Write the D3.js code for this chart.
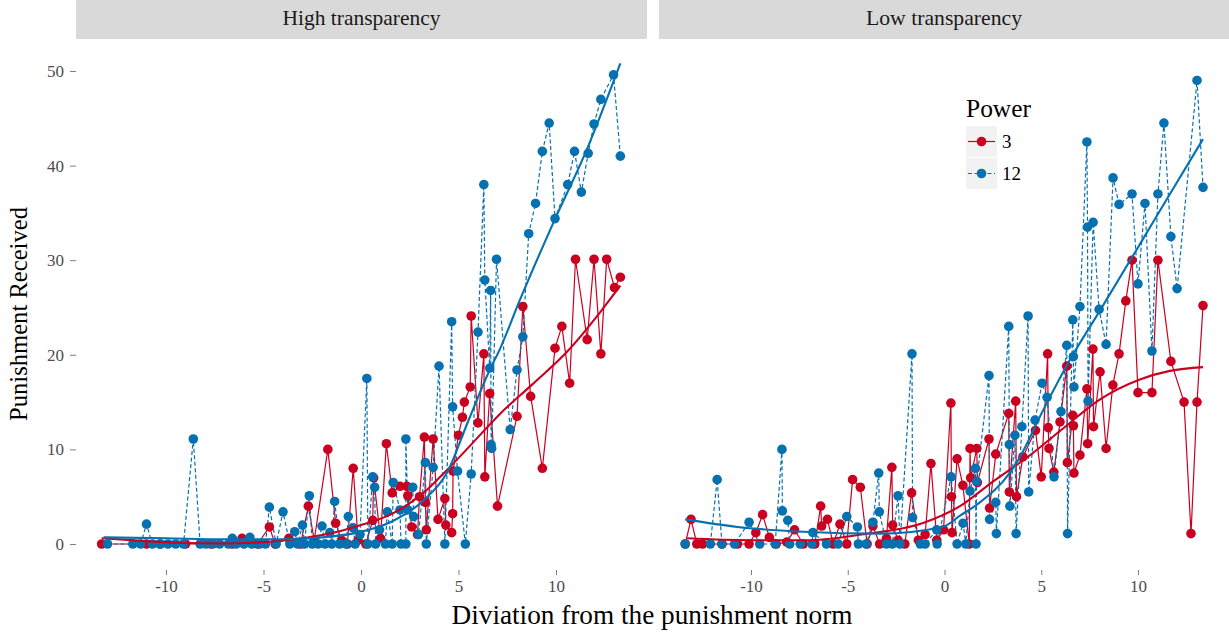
<!DOCTYPE html>
<html><head><meta charset="utf-8">
<script src="https://cdn.jsdelivr.net/npm/d3@7"></script>
<style>
body{margin:0;background:#fff}
svg{display:block}
text{font-family:"Liberation Serif","Times New Roman",serif}
</style>
</head><body>
<svg id="chart" width="1229" height="637"></svg>
<script>
// ---------------- data ----------------
const panelNames = ["High transparency", "Low transparency"];
const powerLevels = ["3", "12"];
const yTickValues = [0, 10, 20, 30, 40, 50];
const xTickValues = [-10, -5, 0, 5, 10];
const xTitle = "Diviation from the punishment norm";
const yTitle = "Punishment Received";
const legendTitle = "Power";

// High transparency, Power 3  [deviation, punishment]
const hiPower3 = [[-13.3,0],[-11.0,0],[-10.3,0],[-9.0,0],[-7.7,0],[-6.6,0],[-6.1,0.6],[-5.3,0],[-4.7,1.8],[-4.4,0],[-3.7,0.6],[-3.1,0],[-2.7,4.0],[-2.4,0.4],[-1.7,10.0],[-1.3,2.2],[-1.0,0.4],[-0.7,0],[-0.4,8.0],[-0.15,0.4],[0.25,0],[0.6,2.5],[0.65,7.0],[1.0,0.6],[1.3,10.6],[1.6,5.4],[2.0,6.1],[2.35,6.1],[2.4,5.1],[2.6,1.8],[2.9,1.0],[3.0,5.0],[3.25,11.3],[3.3,4.4],[3.35,1.5],[3.7,11.1],[3.95,2.6],[4.3,4.8],[4.35,2.0],[4.65,1.2],[4.7,3.2],[4.72,7.7],[5.0,11.5],[5.2,13.4],[5.3,15.0],[5.6,16.6],[5.65,24.1],[6.0,12.8],[6.3,20.1],[6.35,7.1],[6.6,15.9],[7.0,4.0],[8.0,13.5],[8.3,25.1],[8.7,15.6],[9.3,8.0],[9.95,20.7],[10.3,23.0],[10.7,17.0],[11.0,30.1],[11.6,21.6],[11.95,30.1],[12.3,20.1],[12.6,30.1],[13.0,27.1],[13.3,28.2]];

// High transparency, Power 12
const hiPower12 = [[-13.0,0],[-11.7,0],[-11.3,0],[-10.7,0],[-10.3,0],[-9.9,0],[-9.5,0],[-9.1,0],[-8.25,0],[-7.95,0],[-7.6,0],[-7.25,0],[-6.8,0],[-6.4,0],[-6.0,0],[-5.6,0],[-5.2,0],[-4.9,0],[-4.35,0],[-3.65,0],[-3.25,0],[-2.9,0],[-2.5,0],[-2.2,0],[-1.85,0],[-1.5,0],[-1.1,0],[-0.75,0],[-0.3,0],[0.35,0],[0.75,0],[1.25,0],[1.6,0],[2.05,0],[2.3,0],[3.35,0],[4.3,0],[5.35,0],
[-11.0,2.1],[-8.6,11.1],[-6.6,0.6],[-5.7,0.7],[-4.7,3.9],[-4.0,3.4],[-3.4,1.3],[-3.0,2.0],[-2.65,5.1],[-2.0,1.9],[-1.6,1.2],[-1.35,4.5],[-0.65,2.9],[-0.4,1.7],[-0.05,1.0],[0.3,17.5],[0.6,7.1],[0.7,6.0],[0.95,1.5],[1.35,3.4],[1.65,6.5],[2.0,3.6],[2.3,11.1],[2.4,3.6],[2.65,6.0],[2.7,2.9],[2.95,1.0],[3.3,8.6],[3.7,8.1],[4.0,18.8],[4.65,23.5],[4.7,14.5],[4.95,7.7],[5.65,7.4],[6.0,22.4],[6.3,38.0],[6.35,27.9],[6.6,18.6],[6.65,26.8],[6.67,10.5],[6.7,10.1],[6.95,30.1],[7.65,12.1],[8.0,18.4],[8.3,21.9],[8.6,32.8],[8.95,36.0],[9.3,41.5],[9.65,44.5],[9.95,34.4],[10.6,38.0],[10.95,41.5],[11.3,37.2],[11.65,41.3],[11.95,44.4],[12.3,47.0],[12.95,49.6],[13.3,41.0]];

// Low transparency, Power 3
const loPower3 = [[-13.4,0],[-13.1,2.6],[-12.8,0],[-12.5,0],[-11.5,0],[-10.7,0],[-10.1,0],[-9.75,1.2],[-9.4,3.1],[-9.05,0.7],[-8.7,0],[-8.15,0.2],[-7.75,1.5],[-7.3,0],[-6.7,0],[-6.4,4.0],[-6.35,1.9],[-6.05,2.6],[-5.75,0],[-5.4,2.1],[-5.05,0],[-4.75,6.8],[-4.35,6.0],[-4.0,0],[-3.7,1.9],[-3.35,0],[-3.0,0.6],[-2.72,8.1],[-2.68,2.0],[-2.4,0.4],[-2.05,0],[-1.7,5.4],[-1.35,0.4],[-1.0,1.0],[-0.7,8.5],[-0.4,0.4],[-0.05,1.5],[0.33,14.9],[0.36,5.0],[0.39,1.2],[0.65,9.0],[0.95,6.2],[1.28,0],[1.32,10.1],[1.35,7.0],[1.67,10.1],[1.7,6.5],[2.3,11.1],[2.33,3.8],[2.65,9.5],[3.32,13.8],[3.35,5.5],[3.68,15.1],[3.72,5.0],[4.05,9.2],[4.7,12.0],[5.0,7.1],[5.33,20.1],[5.36,12.3],[5.4,10.1],[5.65,7.6],[5.97,12.9],[6.32,18.8],[6.35,8.6],[6.63,13.6],[6.66,12.5],[6.69,7.5],[7.0,9.4],[7.36,16.4],[7.4,10.6],[7.67,20.6],[7.7,12.4],[8.04,18.2],[8.35,10.1],[8.7,16.8],[9.02,20.1],[9.37,25.7],[9.69,30.0],[10.0,16.0],[10.72,16.0],[11.03,30.0],[11.7,19.3],[12.38,15.0],[12.74,1.1],[13.05,15.0],[13.36,25.2]];

// Low transparency, Power 12
const loPower12 = [[-13.4,0],[-12.1,0],[-11.5,0],[-10.85,0],[-9.55,0],[-8.75,0],[-8.0,0],[-7.45,0],[-6.85,0],[-6.1,0],[-5.5,0],[-4.45,0],[-4.05,0],[-3.0,0],[-2.7,0],[-2.3,0],[-1.25,0],[-1.0,0],[-0.38,0],[0.65,0],[1.1,0],[1.63,0],
[-11.75,6.8],[-10.1,2.3],[-8.4,10.0],[-8.38,3.5],[-8.1,2.5],[-6.8,1.2],[-5.05,2.9],[-4.5,1.8],[-3.7,2.3],[-3.4,7.5],[-3.37,3.4],[-2.4,5.1],[-1.68,20.1],[-1.65,2.8],[-0.4,1.5],[0.34,7.1],[0.96,2.2],[1.32,5.6],[1.6,8.0],[1.66,6.6],[2.3,17.8],[2.33,2.6],[2.65,4.4],[2.68,1.1],[3.32,23.0],[3.35,10.5],[3.38,4.0],[3.64,11.5],[3.7,1.1],[4.0,12.4],[4.32,24.1],[4.35,5.5],[4.68,13.1],[5.04,17.0],[5.3,15.5],[5.66,7.1],[6.02,14.0],[6.32,21.0],[6.36,1.1],[6.63,23.7],[6.66,19.8],[6.69,16.6],[7.0,25.1],[7.36,42.5],[7.39,33.5],[7.42,15.1],[7.68,34.0],[7.99,24.8],[8.35,21.1],[8.71,38.7],[9.02,35.9],[9.69,37.0],[10.0,27.5],[10.36,36.0],[10.72,20.4],[11.03,37.0],[11.34,44.5],[11.7,32.5],[12.02,27.0],[13.05,49.0],[13.36,37.7]];

// smoothed (loess) curves
const hiSmooth3 = [[-13.3,0.6],[-11,0.3],[-9,0.1],[-7,0.05],[-5,0.2],[-3,0.6],[-1,1.4],[0,2.0],[1.5,3.1],[3.2,5.4],[4.4,7.8],[5.6,10.4],[7.1,13.7],[8.8,16.9],[10.6,20.4],[12.3,24.6],[13.3,27.3]];
const hiSmooth12 = [[-13.2,0.7],[-10,0.6],[-7,0.5],[-4,0.5],[-2,0.7],[-0.2,1.2],[1.5,2.3],[3.2,4.6],[4.4,7.5],[5.5,13.0],[6.6,18.4],[7.1,20.5],[8.15,25.8],[9.85,33.9],[11.6,41.8],[13.3,50.8]];
const loSmooth3 = [[-13.3,0.6],[-10,0.4],[-7,0.4],[-4.3,1.0],[-1,2.3],[0.8,4.0],[2.5,6.6],[4.3,9.2],[6.0,12.0],[8.04,15.3],[10.1,17.4],[11.65,18.3],[13.36,18.7]];
const loSmooth12 = [[-13.4,2.6],[-10.7,1.8],[-7.3,1.3],[-3.3,1.1],[-0.1,1.8],[0.8,3.0],[1.7,4.2],[3.4,7.6],[3.9,9.2],[4.94,13.5],[6.49,19.5],[8.04,24.7],[10.1,31.7],[11.65,37.0],[13.36,42.8]];

// ---------------- layout ----------------
const colors = {"3": "#CA0020", "12": "#0571B0"};
const svg = d3.select("#chart");
const yScale = d3.scaleLinear().domain([0, 50]).range([544, 71]);
const panelBottom = 570, stripTop = 0, stripH = 39;
const panelDefs = [
  {name: panelNames[0], x0: 76, x1: 647, scale: d3.scaleLinear().domain([-10, 10]).range([166, 556]),
   series: {"3": hiPower3, "12": hiPower12}, smooth: {"3": hiSmooth3, "12": hiSmooth12}, stripW: 158},
  {name: panelNames[1], x0: 659, x1: 1229, scale: d3.scaleLinear().domain([-10, 10]).range([751, 1138]),
   series: {"3": loPower3, "12": loPower12}, smooth: {"3": loSmooth3, "12": loSmooth12}, stripW: 156}
];

function fitText(sel, target) {
  const w = sel.node().getComputedTextLength();
  const fs = parseFloat(sel.attr("font-size"));
  sel.attr("font-size", (fs * target / w).toFixed(2));
}

panelDefs.forEach((p, i) => {
  const g = svg.append("g");
  // strip
  g.append("rect").attr("x", p.x0).attr("y", stripTop).attr("width", p.x1 - p.x0).attr("height", stripH).attr("fill", "#d9d9d9");
  const st = g.append("text").attr("x", (p.x0 + p.x1) / 2).attr("y", 25).attr("text-anchor", "middle")
    .attr("font-size", 18).attr("fill", "#1a1a1a").text(p.name);
  fitText(st, p.stripW);

  const xs = p.scale;
  const line = d3.line().x(d => xs(d[0])).y(d => yScale(d[1]));
  const smooth = d3.line().x(d => xs(d[0])).y(d => yScale(d[1])).curve(d3.curveMonotoneX);

  // connecting lines (ordered by x)
  powerLevels.forEach(k => {
    const sorted = d3.sort(p.series[k], d => d[0]);
    g.append("path").attr("d", line(sorted)).attr("fill", "none")
      .attr("stroke", colors[k]).attr("stroke-width", 1.2)
      .attr("stroke-dasharray", k === "12" ? "4,2.5" : null);
  });
  // points
  powerLevels.forEach(k => {
    g.append("g").selectAll("circle").data(p.series[k]).join("circle")
      .attr("cx", d => xs(d[0])).attr("cy", d => yScale(d[1])).attr("r", 4.8)
      .attr("fill", colors[k]);
  });
  // smooth lines
  powerLevels.forEach(k => {
    g.append("path").attr("d", smooth(p.smooth[k])).attr("fill", "none")
      .attr("stroke", colors[k]).attr("stroke-width", 2.1);
  });

  // x axis
  const ax = g.append("g").attr("transform", `translate(0,${panelBottom})`)
    .call(d3.axisBottom(xs).tickValues(xTickValues).tickSize(5).tickPadding(5).tickFormat(d => d));
  ax.select(".domain").remove();
  ax.selectAll("line").attr("stroke", "#7f7f7f");
  ax.selectAll("text").attr("font-size", 17).attr("fill", "#4d4d4d")
    .style("font-family", '"Liberation Serif",serif');

  if (i === 0) {
    const ay = g.append("g").attr("transform", `translate(${p.x0},0)`)
      .call(d3.axisLeft(yScale).tickValues(yTickValues).tickSize(6).tickPadding(6));
    ay.select(".domain").remove();
    ay.selectAll("line").attr("stroke", "#7f7f7f");
    ay.selectAll("text").attr("font-size", 17).attr("fill", "#4d4d4d")
      .style("font-family", '"Liberation Serif",serif');
  }
});

// axis titles
const xt = svg.append("text").attr("x", 652).attr("y", 624).attr("text-anchor", "middle")
  .attr("font-size", 24).attr("fill", "#000").text(xTitle);
fitText(xt, 401);
const yt = svg.append("text").attr("transform", "translate(27,314) rotate(-90)").attr("text-anchor", "middle")
  .attr("font-size", 24).attr("fill", "#000").text(yTitle);
fitText(yt, 214);

// legend
const lg = svg.append("g");
const ltitle = lg.append("text").attr("x", 966).attr("y", 117).attr("font-size", 22).attr("fill", "#000").text(legendTitle);
fitText(ltitle, 65);
powerLevels.forEach((k, j) => {
  const y0 = 126 + j * 32;
  lg.append("rect").attr("x", 966).attr("y", y0).attr("width", 31).attr("height", 31).attr("fill", "#f2f2f2");
  lg.append("line").attr("x1", 968).attr("x2", 995).attr("y1", y0 + 15.5).attr("y2", y0 + 15.5)
    .attr("stroke", colors[k]).attr("stroke-width", 1.2).attr("stroke-dasharray", k === "12" ? "4,2.5" : null);
  lg.append("circle").attr("cx", 981.5).attr("cy", y0 + 15.5).attr("r", 4.8).attr("fill", colors[k]);
  lg.append("text").attr("x", 1002).attr("y", y0 + 22).attr("font-size", 19).attr("fill", "#000").text(k);
});
</script>
</body></html>
